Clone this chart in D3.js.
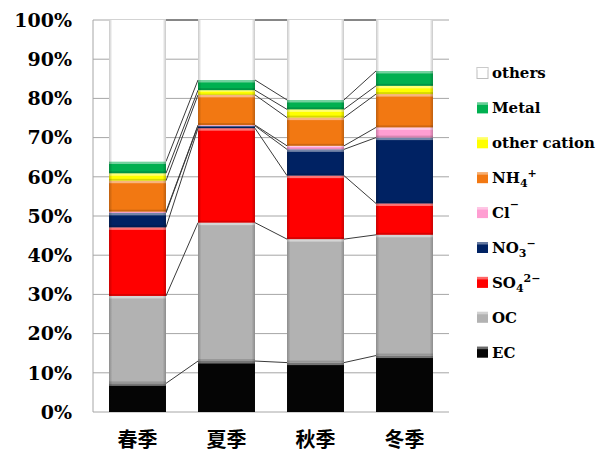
<!DOCTYPE html>
<html><head><meta charset="utf-8">
<script src="https://cdn.jsdelivr.net/npm/d3@7"></script>
<style>body{margin:0;background:#fff}svg{display:block}</style>
</head><body>
<svg id="c" width="613" height="454"></svg>
<script>
const categories = ["春季","夏季","秋季","冬季"];
const EC          = [7.3, 13.0, 12.6, 14.4];
const OC          = [22.3, 35.3, 31.5, 30.8];
const SO4         = [17.5, 24.1, 16.2, 8.0];
const NO3         = [3.7, 0.6, 6.7, 16.8];
const Cl          = [0.3, 0.2, 0.9, 2.6];
const NH4         = [7.9, 7.7, 7.2, 8.5];
const otherCation = [1.9, 1.2, 2.1, 2.1];
const Metal       = [3.0, 2.6, 2.4, 3.8];
const others      = [36.1, 15.3, 20.4, 13.0];
const yTicks = [0,10,20,30,40,50,60,70,80,90,100];

const series = [
  {key:"EC", vals:EC, color:"#050505", label:[["EC"]]},
  {key:"OC", vals:OC, color:"#b2b2b2", label:[["OC"]]},
  {key:"SO4", vals:SO4, color:"#ff0000", label:[["SO"],["4","sub"],["2−","sup"]]},
  {key:"NO3", vals:NO3, color:"#002263", label:[["NO"],["3","sub"],["−","sup"]]},
  {key:"Cl", vals:Cl, color:"#ff9ed2", label:[["Cl"],["−","sup"]]},
  {key:"NH4", vals:NH4, color:"#f27812", label:[["NH"],["4","sub"],["+","sup"]]},
  {key:"otherCation", vals:otherCation, color:"#ffff00", label:[["other cation"]]},
  {key:"Metal", vals:Metal, color:"#00b050", label:[["Metal"]]},
  {key:"others", vals:others, color:"#ffffff", label:[["others"]]}
];

const svg = d3.select("#c");
const x = d3.scaleBand().domain(categories).range([93,449]).paddingInner(0.36).paddingOuter(0.18);
const y = d3.scaleLinear().domain([0,100]).range([412,20]);

// gridlines
svg.append("g").selectAll("line").data(yTicks).join("line")
  .attr("x1",93).attr("x2",449).attr("y1",d=>y(d)).attr("y2",d=>y(d))
  .attr("stroke","#a6a6a6").attr("stroke-width",1);
svg.append("line").attr("x1",93).attr("x2",93).attr("y1",y(100)).attr("y2",y(0))
  .attr("stroke","#a6a6a6").attr("stroke-width",1);

// y labels
svg.append("g").selectAll("text").data(yTicks).join("text")
  .attr("x",72).attr("y",d=>y(d)).attr("dy","0.36em").attr("text-anchor","end")
  .attr("font-family","DejaVu Serif").attr("font-weight","bold").attr("font-size",19)
  .attr("fill","#000").text(d=>d+"%");

// stack
const rows = categories.map((c,i)=>{const o={cat:c}; series.forEach(s=>o[s.key]=s.vals[i]); return o;});
const stack = d3.stack().keys(series.map(s=>s.key))(rows);

const defs = svg.append("defs");
const hg = defs.append("linearGradient").attr("id","hshade").attr("x1","0").attr("x2","1").attr("y1","0").attr("y2","0");
hg.append("stop").attr("offset","0").attr("stop-color","#000").attr("stop-opacity",0.22);
hg.append("stop").attr("offset","0.06").attr("stop-color","#000").attr("stop-opacity",0.0);
hg.append("stop").attr("offset","0.94").attr("stop-color","#000").attr("stop-opacity",0.0);
hg.append("stop").attr("offset","1").attr("stop-color","#000").attr("stop-opacity",0.22);

// series lines
const lg = svg.append("g");
stack.forEach(layer=>{
  for(let i=0;i<categories.length-1;i++){
    lg.append("line")
      .attr("x1",x(categories[i])+x.bandwidth()).attr("y1",y(layer[i][1]))
      .attr("x2",x(categories[i+1])).attr("y2",y(layer[i+1][1]))
      .attr("stroke","#3a3a3a").attr("stroke-width",1);
  }
});

// bars
stack.forEach((layer,si)=>{
  const s = series[si];
  const g = svg.append("g");
  layer.forEach((d,i)=>{
    const x0 = x(categories[i]), w = x.bandwidth();
    const yt = y(d[1]), h = y(d[0]) - y(d[1]);
    g.append("rect").attr("x",x0).attr("y",yt).attr("width",w).attr("height",h)
      .attr("fill",s.color);
    if(s.key!=="others"){
      const hh = Math.min(2.5,h/3);
      g.append("rect").attr("x",x0).attr("y",yt).attr("width",w).attr("height",hh)
        .attr("fill","#fff").attr("opacity",0.45);
      const bh = Math.min(2,h/4);
      g.append("rect").attr("x",x0).attr("y",yt+h-bh).attr("width",w).attr("height",bh)
        .attr("fill","#000").attr("opacity",0.15);
    }
  });
});
// bar side shading
svg.append("g").selectAll("rect").data(categories).join("rect")
  .attr("x",d=>x(d)).attr("y",y(100)).attr("width",x.bandwidth()).attr("height",y(0)-y(100))
  .attr("fill","url(#hshade)");

// x labels
svg.append("g").selectAll("text").data(categories).join("text")
  .attr("x",d=>x(d)+x.bandwidth()/2).attr("y",440).attr("dy","0.36em").attr("text-anchor","middle")
  .attr("font-family","Noto Sans CJK SC").attr("font-weight","bold").attr("font-size",20)
  .attr("fill","#000").text(d=>d);

// legend
const legendSeries = series.slice().reverse();
const leg = svg.append("g");
legendSeries.forEach((s,i)=>{
  const cy = 73 + i*34.9;
  leg.append("rect").attr("x",477).attr("y",cy-5.5).attr("width",11).attr("height",11)
    .attr("fill",s.color).attr("stroke", s.key==="others"?"#bdbdbd":"none").attr("stroke-width",1);
  leg.append("rect").attr("x",477).attr("y",cy-5.5).attr("width",11).attr("height",2.5)
    .attr("fill","#fff").attr("opacity",0.4);
  const t = leg.append("text").attr("x",492).attr("y",cy).attr("dy","0.36em")
    .attr("font-family","DejaVu Serif").attr("font-weight","bold").attr("font-size",15).attr("fill","#000");
  s.label.forEach(p=>{
    const ts = t.append("tspan").text(p[0]);
    if(p[1]==="sub"){ ts.attr("font-size",11).attr("dy",4); }
    if(p[1]==="sup"){ ts.attr("font-size",11).attr("dy",-10); }
  });
});
</script>
</body></html>
